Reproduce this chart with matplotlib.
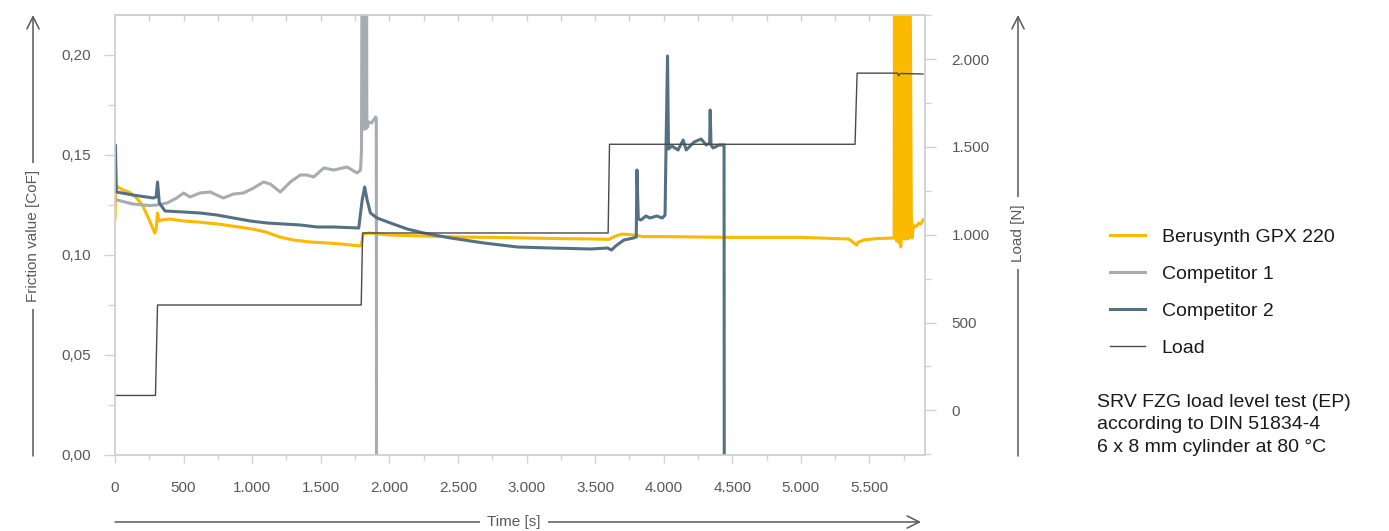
import matplotlib
matplotlib.use("Agg")
import matplotlib.pyplot as plt
from matplotlib.ticker import MultipleLocator

plt.rcParams['font.family'] = ['Liberation Sans', 'DejaVu Sans']

# Berusynth GPX 220 (friction, CoF)
beru_t = [0, 5, 20, 60, 100, 150, 200, 250, 290, 300, 310, 320, 340, 400, 500, 600, 750,
          900, 1000, 1100, 1200, 1300, 1424, 1550, 1650, 1785, 1795, 1810, 1850, 2000, 2250,
          2500, 2750, 3000, 3250, 3500, 3600, 3650, 3700, 3780, 3850, 4000, 4500, 5000, 5350,
          5405, 5420, 5460, 5550, 5680,
          5683, 5688, 5693, 5698, 5703, 5708, 5713, 5718, 5723, 5728, 5733, 5738, 5743, 5748,
          5753, 5758, 5763, 5768, 5773, 5778, 5783, 5788, 5793,
          5805, 5810, 5820, 5830, 5845, 5860, 5875, 5890]
beru_v = [0.118, 0.135, 0.134, 0.1325, 0.1315, 0.129, 0.125, 0.1175, 0.111, 0.113, 0.121, 0.117,
          0.1175, 0.118, 0.117, 0.1165, 0.1155, 0.114, 0.113, 0.1115, 0.109, 0.1075, 0.1065,
          0.106, 0.1055, 0.1045, 0.1048, 0.1105, 0.111, 0.110, 0.1095, 0.109, 0.1088, 0.1085,
          0.1082, 0.108, 0.1078, 0.1095, 0.1105, 0.110, 0.1092, 0.1092, 0.1088, 0.1088, 0.108,
          0.105, 0.1065, 0.1075, 0.1082, 0.1085,
          0.30, 0.1085, 0.30, 0.107, 0.30, 0.1085, 0.30, 0.106, 0.30, 0.104, 0.30, 0.108, 0.30,
          0.1085, 0.30, 0.108, 0.30, 0.1085, 0.30, 0.108, 0.30, 0.1085, 0.30,
          0.121, 0.1085, 0.115, 0.114, 0.1145, 0.116, 0.1155, 0.1175]

# Competitor 1
comp1_t = [0, 15, 130, 255, 305, 380, 450, 500, 547, 620, 694, 790, 864, 937, 1010, 1083, 1132,
           1205, 1278, 1351, 1400, 1448, 1522, 1595, 1692, 1765, 1790, 1797,
           1803, 1806, 1809, 1812, 1815, 1818, 1821, 1824, 1827, 1830, 1833, 1836, 1840,
           1850, 1870, 1885, 1900, 1905, 1907]
comp1_v = [0.128, 0.1275, 0.1255, 0.1247, 0.125, 0.126, 0.1285, 0.131, 0.129, 0.131, 0.1315,
           0.1285, 0.1305, 0.131, 0.1335, 0.1365, 0.1355, 0.1315, 0.1365, 0.140, 0.140, 0.139,
           0.1435, 0.1425, 0.144, 0.141, 0.1425, 0.1525,
           0.30, 0.164, 0.30, 0.163, 0.30, 0.164, 0.30, 0.163, 0.30, 0.164, 0.30, 0.1635, 0.164,
           0.1665, 0.166, 0.1675, 0.169, 0.168, -0.05]

# Competitor 2
comp2_t = [0, 3, 10, 130, 280, 300, 310, 323, 365, 500, 620, 743, 864, 986, 1108, 1229, 1351,
           1473, 1595, 1777, 1802, 1820, 1838, 1862, 1911, 2008, 2130, 2250, 2447, 2690, 2934,
           3177, 3470, 3590, 3620, 3650, 3710, 3780, 3800, 3805, 3815, 3835, 3870, 3900, 3950,
           3990, 4010, 4017, 4028, 4035, 4060, 4105, 4142, 4164, 4222, 4273, 4310, 4335, 4339,
           4345, 4360, 4405, 4440, 4442]
comp2_v = [0.14, 0.155, 0.1315, 0.130, 0.1285, 0.129, 0.1365, 0.126, 0.122, 0.1215, 0.121,
           0.120, 0.1185, 0.117, 0.116, 0.1155, 0.115, 0.114, 0.114, 0.1135, 0.1275, 0.134,
           0.1275, 0.121, 0.1185, 0.116, 0.113, 0.111, 0.1085, 0.106, 0.104, 0.1035, 0.103,
           0.1035, 0.1025, 0.1045, 0.1075, 0.1085, 0.109, 0.1425, 0.118, 0.1175, 0.1195, 0.1185,
           0.1195, 0.1185, 0.120, 0.1535, 0.1995, 0.153, 0.1545, 0.1525, 0.1575, 0.1525, 0.1565,
           0.158, 0.155, 0.156, 0.1725, 0.155, 0.1535, 0.155, 0.155, -0.05]

# Load [N]
load_t = [0, 295, 310, 1795, 1805, 3595, 3605, 5395, 5410, 5705, 5712, 5725, 5890]
load_v = [85, 85, 600, 600, 1010, 1010, 1515, 1515, 1920, 1920, 1905, 1918, 1915]

x_ticks = [0, 500, 1000, 1500, 2000, 2500, 3000, 3500, 4000, 4500, 5000, 5500]
x_labels = ['0', '500', '1.000', '1.500', '2.000', '2.500', '3.000', '3.500', '4.000',
            '4.500', '5.000', '5.500']
y_ticks = [0.0, 0.05, 0.10, 0.15, 0.20]
y_labels = ['0,00', '0,05', '0,10', '0,15', '0,20']
load_ticks = [0, 500, 1000, 1500, 2000]
load_labels = ['0', '500', '1.000', '1.500', '2.000']

YELLOW = '#fbb900'
GREY = '#a6acb1'
SLATE = '#537183'
LOAD = '#4a4a4a'
SPINE = '#d2d2d2'
TXT = '#595959'

W, H = 1389, 531
fig = plt.figure(figsize=(W / 100, H / 100), dpi=100)
ax = fig.add_axes([115 / W, 1 - 455 / H, 810 / W, 440 / H])
ax2 = ax.twinx()

l1, = ax.plot(beru_t, beru_v, color=YELLOW, lw=2.2, label='Berusynth GPX 220', zorder=2)
l2, = ax.plot(comp1_t, comp1_v, color=GREY, lw=2.2, label='Competitor 1', zorder=3)
l3, = ax.plot(comp2_t, comp2_v, color=SLATE, lw=2.2, label='Competitor 2', zorder=4)
l4, = ax2.plot(load_t, load_v, color=LOAD, lw=1.0, label='Load')

ax.set_xlim(0, 5905)
ax.set_ylim(0, 0.22)
ax2.set_ylim(-254, 2251)

ax.set_xticks(x_ticks, x_labels)
ax.xaxis.set_minor_locator(MultipleLocator(250))
ax.set_yticks(y_ticks, y_labels)
ax.yaxis.set_minor_locator(MultipleLocator(0.025))
ax2.set_yticks(load_ticks, load_labels)
ax2.yaxis.set_minor_locator(MultipleLocator(250))

for a in (ax, ax2):
    for s in a.spines.values():
        s.set_color(SPINE)
        s.set_linewidth(1.1)

ax.tick_params(axis='x', which='major', length=6, width=1, color=SPINE, labelcolor=TXT,
               labelsize=11, pad=13)
ax.tick_params(axis='x', which='minor', length=3.5, width=1, color=SPINE)
ax.tick_params(axis='y', which='major', length=8, width=1, color=SPINE, labelcolor=TXT,
               labelsize=11, pad=9)
ax.tick_params(axis='y', which='minor', length=5, width=1, color=SPINE)
ax2.tick_params(axis='y', which='major', length=8, width=1, color=SPINE, labelcolor=TXT,
                labelsize=11, pad=11)
ax2.tick_params(axis='y', which='minor', length=4, width=1, color=SPINE)

top = ax.secondary_xaxis('top')
top.set_xticks(list(range(0, 5901, 250)))
top.tick_params(axis='x', direction='in', length=4, width=1, color=SPINE, labeltop=False)
top.spines['top'].set_color(SPINE)
top.spines['top'].set_linewidth(1.1)

# arrow axis labels
arrow = dict(arrowstyle='->', color=TXT, lw=1.1, mutation_scale=22, shrinkA=0, shrinkB=0)
ax.annotate('', xy=(33, H - 15), xytext=(33, H - 456), xycoords='figure pixels',
            textcoords='figure pixels', arrowprops=arrow, annotation_clip=False)
ax.annotate('', xy=(1018, H - 15), xytext=(1018, H - 456), xycoords='figure pixels',
            textcoords='figure pixels', arrowprops=arrow, annotation_clip=False)
ax.annotate('', xy=(921, H - 522), xytext=(115, H - 522), xycoords='figure pixels',
            textcoords='figure pixels', arrowprops=arrow, annotation_clip=False)
box = dict(fc='white', ec='none', pad=5)
fig.text(33 / W, 1 - 236 / H, 'Friction value [CoF]', rotation=90, ha='center', va='center',
         fontsize=11, color=TXT, bbox=box)
fig.text(1018 / W, 1 - 233 / H, 'Load [N]', rotation=90, ha='center', va='center',
         fontsize=11, color=TXT, bbox=box)
fig.text(514 / W, 1 - 522 / H, 'Time [s]', ha='center', va='center',
         fontsize=11, color=TXT, bbox=box)

fig.legend([l1, l2, l3, l4], [l.get_label() for l in (l1, l2, l3, l4)], loc='upper left',
           bbox_to_anchor=(1110 / W, 1 - 228 / H), frameon=False, fontsize=14,
           handlelength=1.8, handletextpad=0.85, labelspacing=1.0, borderpad=0,
           borderaxespad=0, labelcolor='#1a1a1a')

fig.text(1097 / W, 1 - 394 / H,
         'SRV FZG load level test (EP)\naccording to DIN 51834-4\n6 x 8 mm cylinder at 80 °C',
         ha='left', va='top', fontsize=14, color='#1a1a1a', linespacing=1.42)

fig.savefig('out.png', dpi=100)
